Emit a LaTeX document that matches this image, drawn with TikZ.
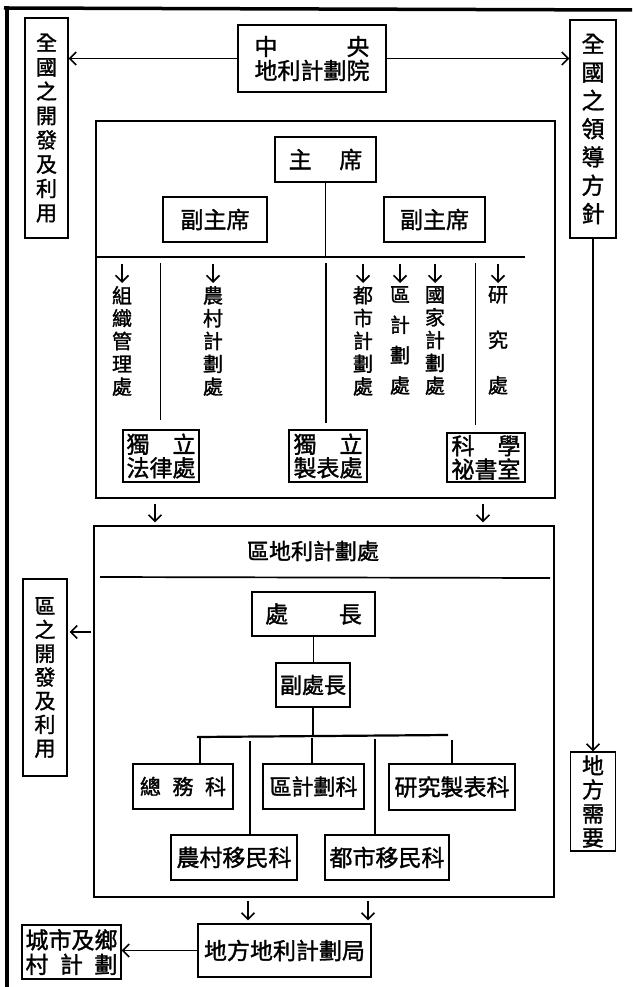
\documentclass[tikz,border=0pt]{standalone}
\usepackage{fontspec}
\newfontfamily\cjk[FakeBold=1.4]{Noto Sans CJK TC}
\usetikzlibrary{arrows.meta}
\begin{document}
\begin{tikzpicture}[x=1pt,y=-1pt,
  box/.style={draw,line width=1.2pt,inner sep=0pt,align=center,font=\cjk\fontsize{22}{24}\selectfont},
  big/.style={draw,line width=1.1pt,inner sep=0pt},
  col/.style={inner sep=0pt,align=center,anchor=north,font=\cjk\fontsize{20}{22.8}\selectfont},
  conn/.style={line width=1.3pt},
  sep/.style={line width=1.7pt},
  arr/.style={line width=1.3pt,-{Straight Barb[length=6.5pt,width=13pt,line width=1.6pt]}},
  frameline/.style={line width=3.5pt}]
\useasboundingbox (0,0) rectangle (632,987);
% outer frame
\coordinate (f1) at (4,8);
\coordinate (f2) at (632,10);
\coordinate (f3) at (7,6);
\coordinate (f4) at (7,987);
\draw[frameline] (f1) -- (f2);
\draw[line width=4pt] (f3) -- (f4);

% top level
\node[box,minimum width=43pt,minimum height=220pt,font=\cjk\fontsize{21}{24.3}\selectfont] (L1) at (46.5,128) {全\\國\\之\\開\\發\\及\\利\\用};
\node[box,minimum width=148pt,minimum height=67pt,font=\cjk\fontsize{23}{24}\selectfont] (C) at (312,58.5) {\makebox[5em]{中\hfill{}央}\\地利計劃院};
\node[box,minimum width=46pt,minimum height=218pt,font=\cjk\fontsize{23}{28.3}\selectfont] (R1) at (593,129) {全\\國\\之\\領\\導\\方\\針};
\draw[arr] (C.west) -- (C.west -| L1.east);
\draw[arr] (C.east) -- (C.east -| R1.west);

% first big box
\node[big,minimum width=459pt,minimum height=377pt] (B1) at (325.5,309.5) {};
\node[box,minimum width=101pt,minimum height=45pt,font=\cjk\fontsize{23}{24}\selectfont] (ZX) at (325.5,159.5) {主\hspace{1.2em}席};
\node[box,minimum width=104pt,minimum height=45pt,font=\cjk\fontsize{23}{24}\selectfont] (FZ1) at (215,219.5) {副主席};
\node[box,minimum width=101pt,minimum height=45pt,font=\cjk\fontsize{23}{24}\selectfont] (FZ2) at (434.5,219.5) {副主席};
\coordinate (h1l) at (96,257);
\coordinate (h1r) at (525,257);
\draw[sep] (h1l) -- (h1r);
\draw[conn] (ZX.south) -- (ZX.south |- h1l);
\coordinate (m1) at (325.5,263);
\coordinate (m2) at (325.5,423);
\draw[line width=2pt] (m1) -- (m2);
\coordinate (dv1a) at (160,263);
\coordinate (dv1b) at (160,420);
\coordinate (dv2a) at (475,263);
\coordinate (dv2b) at (475,425);
\draw[line width=0.9pt] (dv1a) -- (dv1b);
\draw[line width=0.9pt] (dv2a) -- (dv2b);

\node[col] (K1) at (122,286) {組\\織\\管\\理\\處};
\node[col] (K2) at (213,286) {農\\村\\計\\劃\\處};
\node[col] (K3) at (363,286) {都\\市\\計\\劃\\處};
\node[col,font=\cjk\fontsize{20}{30.3}\selectfont] (K4) at (400,286) {區\\計\\劃\\處};
\node[col] (K5) at (435,286) {國\\家\\計\\劃\\處};
\node[col,font=\cjk\fontsize{20}{45.5}\selectfont] (K6) at (498,286) {研\\究\\處};
\foreach \k in {K1,K2,K3,K4,K5,K6}
  \draw[arr,shorten >=3pt] ([yshift=22pt]\k.north) -- (\k.north);

\node[box,minimum width=76pt,minimum height=52pt,font=\cjk\fontsize{23}{23.5}\selectfont] (FL) at (161,456) {\makebox[3em]{獨\hfill{}立}\\法律處};
\node[box,minimum width=78pt,minimum height=52pt,font=\cjk\fontsize{23}{23.5}\selectfont] (ZB) at (328,456) {\makebox[3em]{獨\hfill{}立}\\製表處};
\node[box,minimum width=78pt,minimum height=49pt,font=\cjk\fontsize{23}{23.5}\selectfont] (KX) at (486,457.5) {\makebox[3em]{科\hfill{}學}\\祕書室};

% second big box
\node[big,minimum width=460pt,minimum height=371pt] (B2) at (324,711.5) {};
\coordinate (u1) at (155,504);
\coordinate (u2) at (483,504);
\draw[arr,shorten >=3pt] (u1) -- (u1 |- B2.north);
\draw[arr,shorten >=3pt] (u2) -- (u2 |- B2.north);
\node[font=\cjk\fontsize{22}{24}\selectfont,inner sep=0pt] (T2) at (313,551) {區地利計劃處};
\coordinate (t2l) at (100,577);
\coordinate (t2r) at (550,578);
\draw[sep] (t2l) -- (t2r);

\node[box,minimum width=123pt,minimum height=44pt,font=\cjk\fontsize{23}{24}\selectfont] (CZ) at (313.5,614) {處\hspace{2.2em}長};
\node[box,minimum width=74pt,minimum height=44pt,font=\cjk\fontsize{22}{24}\selectfont] (FC) at (313,685) {副處長};
\draw[conn] (CZ.south) -- (CZ.south |- FC.north);
\coordinate (hl) at (197,737);
\coordinate (hr) at (448,735);
\draw[line width=2.2pt] (hl) -- (hr);
\draw[conn] (FC.south) -- (FC.south |- hl);

\node[box,minimum width=100pt,minimum height=45pt,font=\cjk\fontsize{21}{24}\selectfont] (ZW) at (183,786.5) {總\hspace{0.55em}務\hspace{0.55em}科};
\node[box,minimum width=101pt,minimum height=45pt,font=\cjk\fontsize{22}{24}\selectfont] (QJ) at (313.5,786.5) {區計劃科};
\node[box,minimum width=126pt,minimum height=46pt,font=\cjk\fontsize{23}{24}\selectfont] (YJ) at (452,787) {研究製表科};
\node[box,minimum width=126pt,minimum height=45pt,font=\cjk\fontsize{23}{24}\selectfont] (NY) at (234,857.5) {農村移民科};
\node[box,minimum width=124pt,minimum height=45pt,font=\cjk\fontsize{23}{24}\selectfont] (DS) at (387,857.5) {都市移民科};
\coordinate (d1) at (200,738);
\coordinate (d2) at (250,741);
\coordinate (d3) at (312,738);
\coordinate (d4) at (375,739);
\coordinate (d5) at (452,740);
\draw[conn] (d1) -- (d1 |- ZW.north);
\draw[conn] (d2) -- (d2 |- NY.north);
\draw[conn] (d3) -- (d3 |- QJ.north);
\draw[conn] (d4) -- (d4 |- DS.north);
\draw[conn] (d5) -- (d5 |- YJ.north);

% side boxes
\node[box,minimum width=44pt,minimum height=197pt,font=\cjk\fontsize{21}{23.7}\selectfont] (L2) at (45,677.5) {區\\之\\開\\發\\及\\利\\用};
\coordinate (w1) at (91,632);
\draw[arr,shorten >=2pt] (w1) -- (w1 -| L2.east);
\node[box,minimum width=45pt,minimum height=99pt,font=\cjk\fontsize{22}{24}\selectfont] (NX) at (593,801.5) {地\\方\\需\\要};
\draw[arr,line width=1.6pt] (R1.south) -- (NX.north);

% bottom
\node[box,minimum width=173pt,minimum height=53pt,font=\cjk\fontsize{23}{24}\selectfont] (DF) at (284.5,950.5) {地方地利計劃局};
\coordinate (v1) at (248,901);
\coordinate (v2) at (368,901);
\draw[arr,shorten >=3pt] (v1) -- (v1 |- DF.north);
\draw[arr,shorten >=3pt] (v2) -- (v2 |- DF.north);
\node[box,minimum width=99pt,minimum height=54pt,font=\cjk\fontsize{23}{24.5}\selectfont] (CS) at (71.5,952) {城市及鄉\\\makebox[4em]{村\hfill{}計\hfill{}劃}};
\draw[arr] (DF.west) -- (DF.west -| CS.east);
\end{tikzpicture}
\end{document}
